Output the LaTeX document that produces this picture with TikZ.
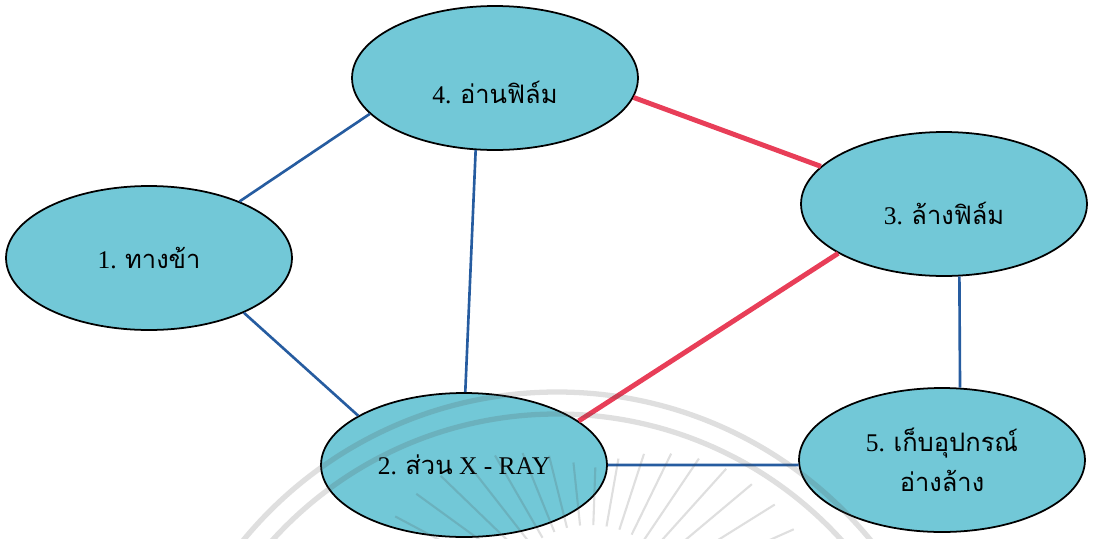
\documentclass[tikz,border=0pt]{standalone}
\usepackage{fontspec}
\setmainfont{Liberation Serif}
\newfontfamily\thai[Script=Thai]{Loma}
\usetikzlibrary{shapes.geometric}

\definecolor{roomfill}{RGB}{114,200,215}
\definecolor{linkblue}{RGB}{38,92,160}
\definecolor{linkred}{RGB}{232,62,88}

\tikzset{
  room/.style={ellipse, draw=black, line width=1pt, fill=roomfill,
    minimum width=5.72cm, minimum height=2.88cm, inner sep=0pt,
    align=center, font=\fontsize{14.5}{23}\selectfont},
  bluelink/.style={draw=linkblue, line width=1.5pt},
  redlink/.style={draw=linkred, line width=2.8pt},
  seal/.style={draw=black!70, opacity=0.18}
}

\begin{document}
\begin{tikzpicture}[x=0.02cm, y=-0.02cm]
    \useasboundingbox (0,0) rectangle (1096,538);
    % rooms
    \node[room] (entry) at (149,258) {1. {\thai ทางข้า}};
    \node[room] (xray) at (464,465) {2. {\thai ส่วน} X - RAY};
    \node[room, text height=24pt] (wash) at (944,204) {3. {\thai ล้างฟิล์ม}};
    \node[room, text height=29pt] (read) at (495,78) {4. {\thai อ่านฟิล์ม}};
    \node[room] (store) at (942,460) {5. {\thai เก็บอุปกรณ์}\\{\thai อ่างล้าง}};
    % links
    \draw[bluelink] (entry.32) -- (read.196);
    \draw[bluelink] (entry.330) -- (xray.155);
    \draw[bluelink] (read.255) -- (xray.89);
    \draw[bluelink] (wash.282) -- (store.76);
    \draw[bluelink] (xray.0) -- (store.182);
    \draw[redlink] (read.352) -- (wash.163);
    \draw[redlink] (wash.205) -- (xray.21);
    % faint seal in the back
    \begin{scope}
        \clip (0,0) rectangle (1096,538);
        \draw[seal, line width=3pt] (557,798) circle [radius=406];
        \draw[seal, line width=3pt] (557,798) circle [radius=384];
        \foreach \a in {200,208,...,340}
            \draw[seal, line width=1.2pt, shift={(590,620)}] (\a:95) -- (\a:{150+80*abs(cos(\a))});
    \end{scope}
\end{tikzpicture}
\end{document}
